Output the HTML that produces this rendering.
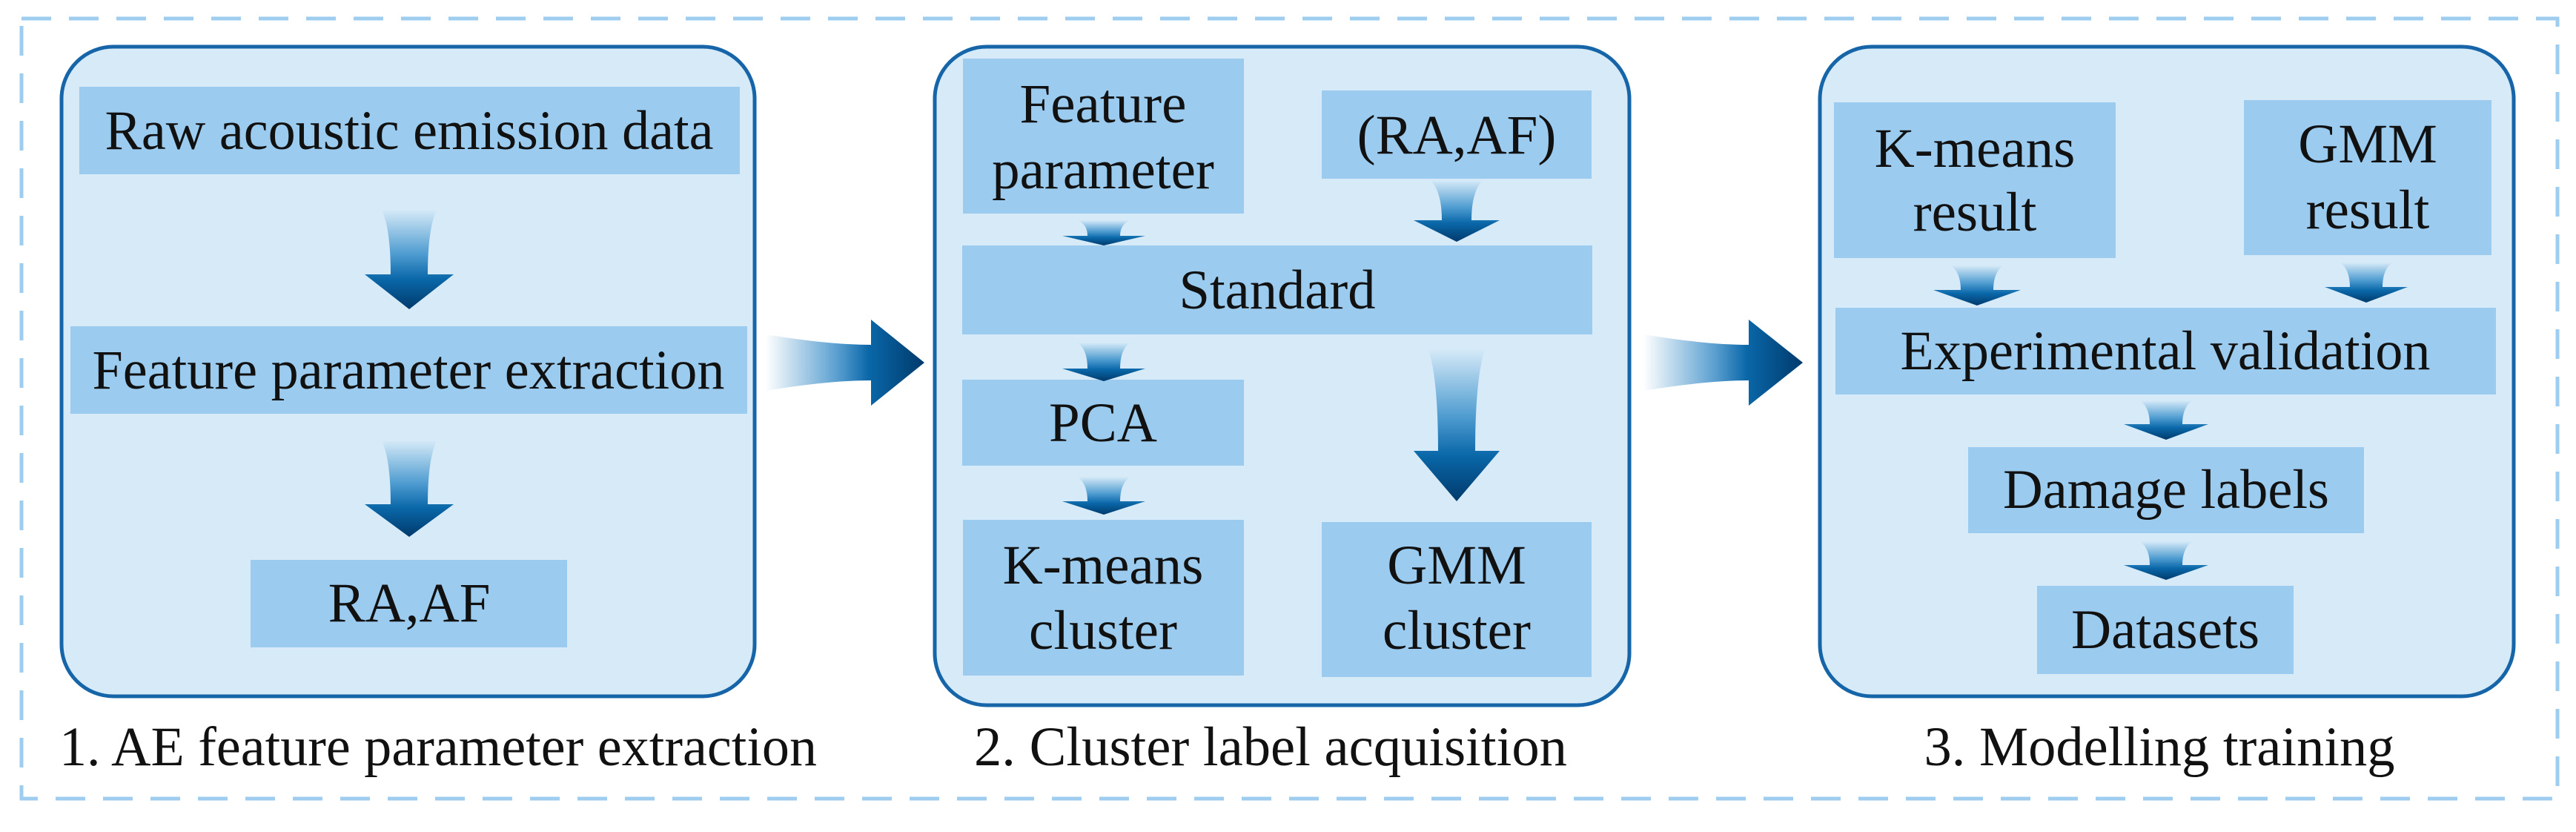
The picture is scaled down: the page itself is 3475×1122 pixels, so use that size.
<!DOCTYPE html>
<html><head><meta charset="utf-8"><style>
html,body{margin:0;padding:0;background:#fff}
svg{display:block}
.t{font-family:"Liberation Serif","Times New Roman","DejaVu Serif",serif;font-size:75px;fill:#111;text-anchor:middle}
</style></head><body>
<svg width="3475" height="1122" viewBox="0 0 3475 1122" xmlns="http://www.w3.org/2000/svg">
<defs>
<linearGradient id="gv" x1="0" y1="0" x2="0" y2="1">
<stop offset="0" stop-color="#d6eaf8"/>
<stop offset="0.45" stop-color="#4d9bd0"/>
<stop offset="0.7" stop-color="#0a67a8"/>
<stop offset="1" stop-color="#003a6c"/>
</linearGradient>
<linearGradient id="gh" x1="0" y1="0" x2="1" y2="0">
<stop offset="0" stop-color="#ffffff"/>
<stop offset="0.45" stop-color="#5a9fd0"/>
<stop offset="0.65" stop-color="#0a67a8"/>
<stop offset="1" stop-color="#003a6c"/>
</linearGradient>
</defs>
<rect x="29" y="25" width="3421" height="1052" fill="none" stroke="#9fcdf0" stroke-width="5" stroke-dasharray="40 24"/>

<rect x="83" y="63" width="935" height="876" rx="70" fill="#d6eaf8" stroke="#1565a8" stroke-width="5"/>
<rect x="1261" y="63" width="937" height="888" rx="70" fill="#d6eaf8" stroke="#1565a8" stroke-width="5"/>
<rect x="2455" y="63" width="936" height="876" rx="70" fill="#d6eaf8" stroke="#1565a8" stroke-width="5"/>

<g fill="#9bcbee">
<rect x="107" y="117" width="891" height="118"/>
<rect x="95" y="440" width="913" height="118"/>
<rect x="338" y="755" width="427" height="118"/>
<rect x="1299" y="79" width="379" height="209"/>
<rect x="1783" y="122" width="364" height="119"/>
<rect x="1298" y="331" width="850" height="120"/>
<rect x="1298" y="512" width="380" height="116"/>
<rect x="1299" y="701" width="379" height="210"/>
<rect x="1783" y="704" width="364" height="209"/>
<rect x="2474" y="138" width="380" height="210"/>
<rect x="3027" y="135" width="334" height="209"/>
<rect x="2476" y="415" width="891" height="117"/>
<rect x="2655" y="603" width="534" height="116"/>
<rect x="2748" y="790" width="346" height="119"/>
</g>

<g fill="url(#gv)">
<path d="M515,283 L589,283 Q577,309 577,370 L612,370 L552,417 L492,370 L527,370 Q527,309 515,283 Z"/>
<path d="M515,594 L589,594 Q577,620 577,680 L612,680 L552,724 L492,680 L527,680 Q527,620 515,594 Z"/>
<path d="M1454,297 L1524,297 Q1511,303 1511,318 L1545,318 L1489,331 L1433,318 L1467,318 Q1467,303 1454,297 Z"/>
<path d="M1930,243 L2000,243 Q1985,259 1985,297 L2023,297 L1965,326 L1907,297 L1945,297 Q1945,259 1930,243 Z"/>
<path d="M1454,462 L1524,462 Q1511,472 1511,497 L1545,497 L1489,514 L1433,497 L1467,497 Q1467,472 1454,462 Z"/>
<path d="M1454,643 L1524,643 Q1511,653 1511,676 L1545,676 L1489,694 L1433,676 L1467,676 Q1467,653 1454,643 Z"/>
<path d="M1927,471 L2003,471 Q1990,512 1990,608 L2023,608 L1965,676 L1907,608 L1940,608 Q1940,512 1927,471 Z"/>
<path d="M2632,358 L2702,358 Q2689,368 2689,391 L2726,391 L2667,412 L2608,391 L2645,391 Q2645,368 2632,358 Z"/>
<path d="M3157,354 L3227,354 Q3214,364 3214,387 L3248,387 L3192,408 L3136,387 L3170,387 Q3170,364 3157,354 Z"/>
<path d="M2887,540 L2957,540 Q2944,550 2944,572 L2979,572 L2922,593 L2865,572 L2900,572 Q2900,550 2887,540 Z"/>
<path d="M2887,730 L2957,730 Q2944,740 2944,762 L2979,762 L2922,782 L2865,762 L2900,762 Q2900,740 2887,730 Z"/>
</g>
<g fill="url(#gh)">
<path d="M1033,451 Q1118,465 1175,465 L1175,431 L1247,489 L1175,547 L1175,513 Q1118,513 1033,527 Z"/>
<path d="M2217,451 Q2302,465 2359,465 L2359,431 L2432,489 L2359,547 L2359,513 Q2302,513 2217,527 Z"/>
</g>

<g>
<text class="t" x="552" y="201" textLength="821" lengthAdjust="spacingAndGlyphs">Raw acoustic emission data</text>
<text class="t" x="551" y="524" textLength="853" lengthAdjust="spacingAndGlyphs">Feature parameter extraction</text>
<text class="t" x="552" y="838">RA,AF</text>
<text class="t" x="1488" y="165">Feature</text>
<text class="t" x="1488" y="254">parameter</text>
<text class="t" x="1965" y="207">(RA,AF)</text>
<text class="t" x="1723" y="416" textLength="265" lengthAdjust="spacingAndGlyphs">Standard</text>
<text class="t" x="1488" y="595">PCA</text>
<text class="t" x="1488" y="787">K-means</text>
<text class="t" x="1488" y="875">cluster</text>
<text class="t" x="1965" y="787">GMM</text>
<text class="t" x="1965" y="875">cluster</text>
<text class="t" x="2664" y="225">K-means</text>
<text class="t" x="2664" y="311">result</text>
<text class="t" x="3194" y="219">GMM</text>
<text class="t" x="3194" y="308">result</text>
<text class="t" x="2921" y="498" textLength="715" lengthAdjust="spacingAndGlyphs">Experimental validation</text>
<text class="t" x="2922" y="685" textLength="440" lengthAdjust="spacingAndGlyphs">Damage labels</text>
<text class="t" x="2921" y="874" textLength="254" lengthAdjust="spacingAndGlyphs">Datasets</text>
<text class="t" x="591" y="1032" textLength="1022" lengthAdjust="spacingAndGlyphs">1. AE  feature parameter extraction</text>
<text class="t" x="1714" y="1032" textLength="800" lengthAdjust="spacingAndGlyphs">2. Cluster label acquisition</text>
<text class="t" x="2913" y="1032" textLength="635" lengthAdjust="spacingAndGlyphs">3. Modelling training</text>
</g>
</svg>
</body></html>
